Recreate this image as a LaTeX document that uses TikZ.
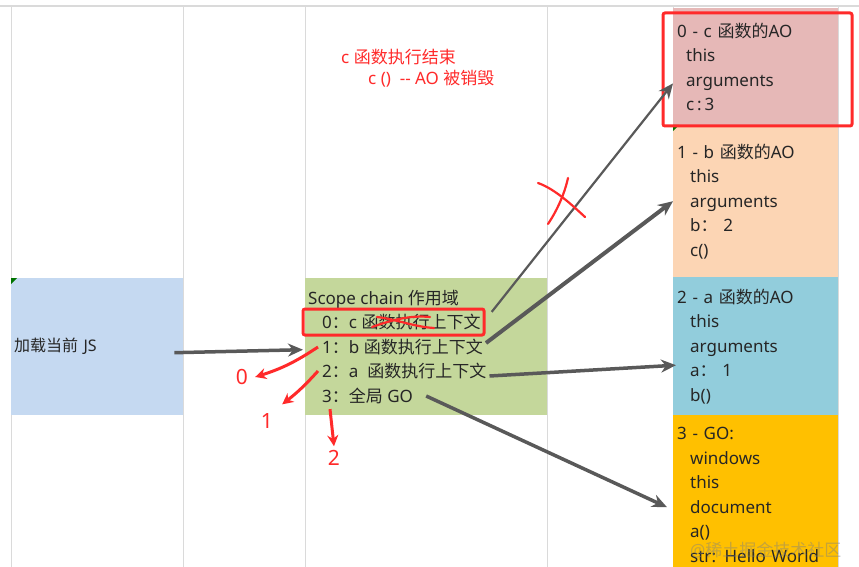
\documentclass[tikz,border=0pt]{standalone}
\usepackage{fontspec}
\setmainfont{Noto Sans}
\newfontfamily\cjk{Noto Sans CJK SC}
\usepackage{xcolor}
\usepackage{tikz}
\usetikzlibrary{arrows.meta,positioning}
\definecolor{aopink}{HTML}{E6B8B7}
\definecolor{aopeach}{HTML}{FCD5B4}
\definecolor{aoblue}{HTML}{92CDDC}
\definecolor{aoorange}{HTML}{FFC000}
\definecolor{jsblue}{HTML}{C5D9F1}
\definecolor{scgreen}{HTML}{C4D79B}
\definecolor{gridgray}{HTML}{DADADA}
\definecolor{redmark}{HTML}{FF2A2A}
\definecolor{arrgray}{HTML}{595959}
\newcommand\zh[1]{{\cjk #1}}
\newcommand\ind{\hspace*{13pt}}

\begin{document}
\begin{tikzpicture}[x=1pt,y=-1pt]
\tikzset{cell/.style = {shape=rectangle,anchor=north west,inner sep=0pt}}
\tikzset{txt/.style = {font=\fontsize{17}{24.5}\selectfont,text=black!85}}
\tikzset{aobox/.style = {cell,txt,minimum width=165pt,text width=157pt,inner xsep=4pt,align=left}}
\tikzset{scline/.style = {txt,anchor=west,inner sep=3pt}}
\tikzset{grayarrow/.style = {draw=arrgray,line width=3.5pt,-{Stealth[length=15pt,width=13pt]}}}
\tikzset{redarrow/.style = {draw=redmark,line width=3pt,-{Stealth[length=11pt,width=11pt]}}}
\tikzset{redpen/.style = {draw=redmark,line width=2.2pt,line cap=round}}
\tikzset{redtxt/.style = {font=\fontsize{17}{24}\selectfont,text=redmark,anchor=west,inner sep=0pt}}
\tikzset{digit/.style = {font=\fontsize{21}{24}\selectfont,text=redmark,inner sep=1pt}}
\useasboundingbox[fill=white] (0,0) rectangle (859,567);
% grid of the sheet
\draw[gridgray,line width=1.5pt] (0,6) -- (859,6);
\foreach \x in {11,183,305,547,673,838}
  \draw[gridgray,line width=1pt] (\x,6) -- (\x,567);
% cells
\node[cell,fill=jsblue,minimum width=172pt,minimum height=137pt,
      txt,text width=166pt,inner xsep=3pt,align=left,font=\fontsize{16}{20}\selectfont] (js) at (11,278) {\zh{加载当前} JS};
\node[cell,fill=scgreen,minimum width=242pt,minimum height=137pt] (sc) at (305,278) {};
\node[scline] (title) at (305,299) {Scope chain \zh{作用域}};
\node[scline] (l0) at (319,322) {0\zh{：}c \zh{函数执行上下文}};
\node[scline] (l1) at (319,347) {1\zh{：}b \zh{函数执行上下文}};
\node[scline] (l2) at (319,371) {2\zh{：}a\ \ \zh{函数执行上下文}};
\node[scline] (l3) at (319,396) {3\zh{：}\zh{全局} GO};
\node[aobox,fill=aopink,minimum height=117pt] (ao0) at (673,8)
  {0 - c \zh{函数的}AO\\\hspace*{9pt}this\\\hspace*{9pt}arguments\\\hspace*{9pt}c\,:\,3};
\node[aobox,fill=aopeach,minimum height=152pt] (ao1) at (673,125)
  {1 - b \zh{函数的}AO\\\ind this\\\ind arguments\\\ind b\zh{：}\ 2\\\ind c()};
\node[aobox,fill=aoblue,minimum height=138pt] (ao2) at (673,277)
  {2 - a \zh{函数的}AO\\\ind this\\\ind arguments\\\ind a\zh{：}\ 1\\\ind b()};
\node[aobox,fill=aoorange,minimum height=160pt] (ao3) at (673,415)
  {3 - GO:\\\ind windows\\\ind this\\\ind document\\\ind a()\\\ind str: Hello World};
\fill[green!45!black] (11,278) -- (17,278) -- (11,284) -- cycle;
\fill[green!45!black] (673,125) -- (679,125) -- (673,131) -- cycle;
% red notes
\node[redtxt] (done) at (341,57) {c \zh{函数执行结束}};
\node[redtxt] (gone) at (368,79) {c ()\ \ -{}- AO \zh{被销毁}};
\draw[redmark,line width=3pt,rounded corners=2pt] (663,13) rectangle (852,126);
\draw[redmark,line width=3pt,rounded corners=2pt] (303,309) rectangle (484,335);
\draw[redpen] (372,327) .. controls (392,320) and (410,315) .. (430,317);
\draw[redpen] (377,317) .. controls (395,319) and (415,327) .. (434,328);
% arrows
\draw[grayarrow] ([xshift=-9pt,yshift=-6pt]js.east) -- ([xshift=-2pt,yshift=-3pt]sc.west);
\draw[grayarrow,line width=2.2pt] ([xshift=8pt,yshift=-1pt]l0.north east) -- ([yshift=42pt]ao0.south west);
\draw[grayarrow,line width=4pt] ([yshift=4pt]l1.east) -- (ao1.west);
\draw[grayarrow] ([yshift=-5pt]l2.east) -- ([xshift=3pt,yshift=-19pt]ao2.west);
\draw[grayarrow] ([xshift=10pt]l3.east) -- ([xshift=-6pt,yshift=-12pt]ao3.west);
\draw[redpen] (538,183) .. controls (555,189) and (572,205) .. (585,217);
\draw[redpen] (568,178) .. controls (564,196) and (556,212) .. (548,224);
% order of the chain
\node[digit] (n0) at (242,377) {0};
\node[digit] (n1) at (267,421) {1};
\node[digit] (n2) at (334,458) {2};
\draw[redarrow] ([xshift=-1pt]l1.west) to[bend left=8] ([xshift=6pt]n0.east);
\draw[redarrow] ([xshift=-1pt]l2.west) to[bend left=5] ([xshift=8pt,yshift=8pt]n1.north east);
\draw[redarrow] ([xshift=11pt,yshift=-2pt]l3.south west) -- ([yshift=3pt]n2.north);
% watermark
\node[txt,anchor=west,text=gray,opacity=0.45,inner sep=0pt] (wm) at (690,550) {@\zh{稀土掘金技术社区}};
\end{tikzpicture}
\end{document}
